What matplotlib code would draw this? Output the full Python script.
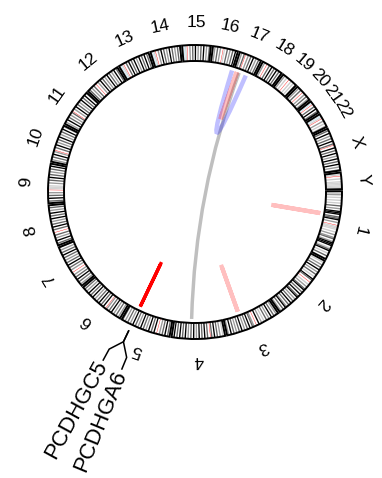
import numpy as np
import matplotlib.pyplot as plt
from matplotlib.patches import Wedge, PathPatch
from matplotlib.path import Path

plt.rcParams['font.family'] = ['Liberation Sans', 'DejaVu Sans']

# chromosomes (hg19 lengths, Mb)
chrom_names = ['1', '2', '3', '4', '5', '6', '7', '8', '9', '10', '11', '12',
               '13', '14', '15', '16', '17', '18', '19', '20', '21', '22', 'X', 'Y']
chrom_lengths = [249.25, 243.2, 198.0, 191.15, 180.9, 171.1, 159.1, 146.4, 141.2,
                 135.5, 135.0, 133.85, 115.2, 107.35, 102.5, 90.35, 81.2, 78.1,
                 59.1, 63.0, 48.1, 51.3, 155.3, 59.4]

# cytoband stains in 5 Mb bins (rough reading of the ideogram)
# 0 gneg, 1 gpos25, 2 gpos50, 3 gpos75, 4 gpos100, a acen, s stalk, v gvar
chrom_bands = [
    "0120101010" "3020444033" "4020avvv01" "0202302444" "0134010300",
    "0102030402" "03010430a0" "1020340304" "0340203040" "302403020",
    "0203040203" "0102040a02" "3040302040" "3020304020",
    "0102030403" "a030403040" "2040302040" "304030402",
    "030403020a" "0403040203" "0402030402" "0302030",
    "0203020403" "02a0403040" "3020403040" "20302",
    "0203040302" "0a02030403" "0203040302" "03",
    "030402030a" "0304030204" "0304020302",
    "030403020a" "vvv0203040" "302030402",
    "02030402a0" "3040203040" "20304020",
    "0204030203" "a020403020" "4030402",
    "0302030a02" "0403020403" "0204030",
    "vsva030403" "0402040304" "0302",
    "vsva020403" "0204030203" "04",
    "vsva020304" "0203040203" "0",
    "0203020av0" "302030403",
    "0203a02030" "4020302",
    "020a030403" "040302",
    "02010a0101" "02",
    "02030a0203" "020",
    "vsa0304030",
    "vsva0201020",
    "0304020304" "03a0403040" "2040304020" "30",
    "01a010vvvvvv",
]
band_colors = {'0': 'white', '1': '#CCCCCC', '2': '#999999', '3': '#666666',
               '4': 'black', 'a': 'red', 's': 'skyblue', 'v': '#D3D3D3'}

# links (chrom, Mb) -> (chrom, Mb)
link_chrom_a = ['4', '16', '17', '1', '3', '5']
link_pos_a = [121.5, 90.0, 13.5, 89.3, 134.0, 141.1]
link_chrom_b = ['17', '17', '17', '1', '3', '5']
link_pos_b = [23.0, 52.5, 14.0, 89.6, 134.3, 141.3]
link_colors = [(0, 0, 0, 0.25), (0, 0, 1, 0.25), (1, 0, 0, 0.25),
               (1, 0, 0, 0.25), (1, 0, 0, 0.25), (1, 0, 0, 1.0)]
link_widths = [2.5, 3.2, 3.4, 3.0, 3.0, 2.4]

# gene labels
gene_names = ['PCDHGA6', 'PCDHGC5']
gene_chrom = ['5', '5']
gene_pos = [141.15, 141.25]

CX, CY = 195, 286
R_OUT, R_IN = 147, 131
R_LINK = 127
R_LABEL = 169
GAP = 0.79
START = 0.3
SCALE = (360 - GAP * len(chrom_names)) / sum(chrom_lengths)

chrom_start = {}
acc = 0.0
for name, length in zip(chrom_names, chrom_lengths):
    chrom_start[name] = START - acc
    acc += length * SCALE + GAP


def angle(chrom, pos):
    return chrom_start[chrom] - pos * SCALE


def polar(r, deg):
    t = np.radians(deg)
    return CX + r * np.cos(t), CY + r * np.sin(t)


fig = plt.figure(figsize=(3.82, 4.78), dpi=100)
ax = fig.add_axes([0, 0, 1, 1])
ax.set_xlim(0, 382)
ax.set_ylim(0, 478)
ax.axis('off')

# ideogram
for name, length, bands in zip(chrom_names, chrom_lengths, chrom_bands):
    for k, code in enumerate(bands):
        if code == '0':
            continue
        b0 = k * 5
        b1 = min(b0 + 5, length)
        if code in 'as':
            # centromere / stalk marks are thin lines in the ideogram
            b0, b1 = b0 + 1.8, b0 + 3.2
        ax.add_patch(Wedge((CX, CY), R_OUT, angle(name, b1), angle(name, b0),
                           width=R_OUT - R_IN, facecolor=band_colors[code], lw=0))
    ax.add_patch(Wedge((CX, CY), R_OUT, angle(name, length), angle(name, 0),
                       width=R_OUT - R_IN, fill=False, edgecolor='black', lw=1.4))
    mid = angle(name, length / 2)
    x, y = polar(R_LABEL, mid)
    ax.text(x, y, name, fontsize=12.5, rotation=(mid - 90) % 360,
            ha='center', va='center', rotation_mode='anchor')

# links
for ca, pa, cb, pb, col, lw in zip(link_chrom_a, link_pos_a, link_chrom_b,
                                   link_pos_b, link_colors, link_widths):
    p0 = polar(R_LINK, angle(ca, pa))
    p2 = polar(R_LINK, angle(cb, pb))
    path = Path([p0, (CX, CY), p2], [Path.MOVETO, Path.CURVE3, Path.CURVE3])
    ax.add_patch(PathPatch(path, fill=False, edgecolor=col, lw=lw, capstyle='butt'))

# gene labels with connectors
g_mid = np.mean([angle(c, p) for c, p in zip(gene_chrom, gene_pos)])
for i, (gname, c, p) in enumerate(zip(gene_names, gene_chrom, gene_pos)):
    a_g = angle(c, p)
    a_l = g_mid + (0.5 - i) * 6.2
    pts = [polar(154, a_g), polar(166, a_g), polar(179, a_l), polar(191.5, a_l)]
    ax.plot([q[0] for q in pts], [q[1] for q in pts], color='black', lw=1.1)
    x, y = polar(194, a_l)
    ax.text(x, y, gname, fontsize=16, rotation=(a_l + 180) % 360,
            ha='right', va='center', rotation_mode='anchor')

fig.savefig('out.png', dpi=100)
